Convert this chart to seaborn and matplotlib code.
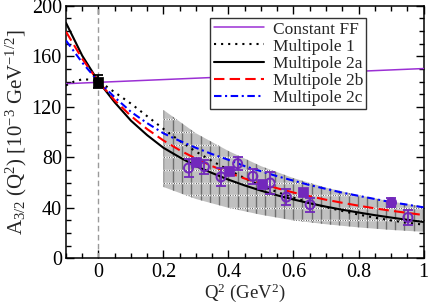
import numpy as np
import pandas as pd
import matplotlib
matplotlib.use("Agg")
import matplotlib.pyplot as plt
from matplotlib.ticker import MultipleLocator
from matplotlib.lines import Line2D
import seaborn as sns

# ---------------- data ----------------
q2_curve = [-0.10, -0.05, 0.00, 0.05, 0.10, 0.15, 0.20, 0.25, 0.30, 0.35, 0.40,
            0.45, 0.50, 0.55, 0.60, 0.65, 0.70, 0.75, 0.80, 0.85, 0.90, 0.95, 1.00]
mp2a = [186.5, 160.5, 140.0, 123.5, 109.0, 97.5, 87.5, 80.0, 73.0, 67.5, 62.3,
        57.7, 53.6, 49.9, 46.6, 43.6, 40.9, 38.5, 36.3, 34.2, 32.3, 30.5, 28.8]
mp2b = [179.5, 158.0, 140.0, 125.1, 112.7, 102.3, 93.3, 85.6, 78.9, 73.0, 67.8,
        63.2, 59.1, 55.5, 52.1, 49.2, 46.4, 44.0, 41.7, 39.6, 37.7, 36.0, 34.3]
mp2c = [172.5, 155.0, 140.0, 127.5, 116.0, 107.0, 99.0, 93.0, 87.5, 82.5, 78.0,
        73.0, 69.0, 65.0, 61.5, 58.0, 55.0, 52.0, 49.5, 47.0, 44.5, 42.5, 40.4]

q2_mp1 = [-0.100, -0.075, -0.050, -0.025, 0.000, 0.025, 0.050, 0.075, 0.100, 0.125,
          0.150, 0.175, 0.200, 0.250, 0.300, 0.350, 0.400, 0.450, 0.500, 0.550,
          0.600, 0.650, 0.700, 0.750, 0.800, 0.850, 0.900, 0.950, 1.000]
mp1 = [137.0, 140.0, 141.8, 141.5, 140.0, 136.0, 131.5, 127.0, 122.5, 117.5,
       112.5, 107.5, 102.5, 93.0, 84.5, 77.0, 70.0, 63.5, 57.5, 52.5,
       48.0, 44.0, 40.5, 37.5, 34.7, 32.2, 30.0, 28.2, 26.7]

q2_const = [-0.10, 1.00]
const_ff = [138.3, 150.3]

# error band
q2_band = [0.20, 0.30, 0.40, 0.50, 0.60, 0.70, 0.80, 0.90, 1.00]
band_hi = [117.5, 99.0, 85.0, 73.0, 63.5, 56.0, 50.0, 45.0, 41.0]
band_lo = [56.5, 47.0, 40.0, 34.5, 30.0, 27.0, 24.5, 22.5, 21.0]

# experimental points
open_q2 = [0.277, 0.326, 0.377, 0.428, 0.475, 0.528, 0.578, 0.651, 0.952]
open_a = [71.5, 72.5, 64.5, 75.0, 65.0, 59.7, 48.5, 42.5, 32.3]
open_err = [7.0, 5.5, 7.0, 5.0, 6.0, 9.0, 6.3, 5.5, 6.0]

sq_q2 = [0.301, 0.402, 0.503, 0.628]
sq_a = [76.0, 69.4, 58.6, 52.8]

fc_q2 = [0.901]
fc_a = [44.5]
fc_err = [3.5]

pt0_q2 = [0.0]
pt0_a = [140.0]
pt0_err = [5.0]

xticks = [0, 0.2, 0.4, 0.6, 0.8, 1.0]
xtick_labels = ["0", "0.2", "0.4", "0.6", "0.8", "1"]
yticks = [0, 40, 80, 120, 160, 200]
legend_labels = ["Constant FF", "Multipole 1", "Multipole 2a", "Multipole 2b", "Multipole 2c"]

# ---------------- style ----------------
sns.set_theme(style="ticks")
plt.rcParams["font.family"] = ["Liberation Serif", "DejaVu Serif"]
plt.rcParams["mathtext.fontset"] = "custom"
plt.rcParams["mathtext.rm"] = "Liberation Serif"
plt.rcParams["mathtext.it"] = "Liberation Serif:italic"
plt.rcParams["mathtext.bf"] = "Liberation Serif:bold"

PURPLE_LINE = "#9b30d4"
PURPLE_PT = "#7228bc"

fig = plt.figure(figsize=(4.29, 3.05), dpi=100)
ax = fig.add_axes([0.1538, 0.153, 0.8334, 0.828])

# band
poly = ax.fill_between(q2_band, band_lo, band_hi, facecolor="#c0c0c0",
                       edgecolor="none", zorder=1)
clip_path = poly.get_paths()[0]
for xv in np.arange(0.2, 1.0, 0.0285):
    ln = ax.axvline(xv, color="#6e6e6e", lw=1.0, zorder=1.1)
    ln.set_clip_path(clip_path, transform=ax.transData)
for yv in np.arange(20, 120, 10):
    l1 = ax.axhline(yv, color="white", lw=1.0, zorder=1.2)
    l1.set_clip_path(clip_path, transform=ax.transData)
    l2 = ax.axhline(yv, color="#222222", lw=0.8, ls=(0, (0.6, 1.6)), zorder=1.3)
    l2.set_clip_path(clip_path, transform=ax.transData)

# vertical dashed line at Q2 = 0
ax.axvline(0.0, color="#9a9a9a", lw=1.0, ls=(0, (4, 2.5)), zorder=1.5)

# curves
df_const = pd.DataFrame({"q2": q2_const, "a": const_ff})
df_mp1 = pd.DataFrame({"q2": q2_mp1, "a": mp1})
df_a = pd.DataFrame({"q2": q2_curve, "a": mp2a})
df_b = pd.DataFrame({"q2": q2_curve, "a": mp2b})
df_c = pd.DataFrame({"q2": q2_curve, "a": mp2c})

lw = 1.5
DOT = (0, (1, 2.4))
DASH = (0, (5, 2.5))
DASHDOT = (0, (3.6, 1.7, 1, 1.7))
sns.lineplot(data=df_const, x="q2", y="a", ax=ax, color=PURPLE_LINE, lw=1.1, zorder=3)
sns.lineplot(data=df_mp1, x="q2", y="a", ax=ax, color="black", lw=lw, zorder=3)
ax.lines[-1].set_linestyle(DOT)
sns.lineplot(data=df_a, x="q2", y="a", ax=ax, color="black", lw=lw, zorder=3)
sns.lineplot(data=df_b, x="q2", y="a", ax=ax, color="#ff0000", lw=lw, zorder=3)
ax.lines[-1].set_linestyle(DASH)
sns.lineplot(data=df_c, x="q2", y="a", ax=ax, color="#0000ff", lw=lw, zorder=3)
ax.lines[-1].set_linestyle(DASHDOT)

# data points
ax.errorbar(open_q2, open_a, yerr=open_err, fmt="none", ecolor=PURPLE_PT,
            elinewidth=1.3, capsize=3.5, capthick=1.3, zorder=4)
sns.scatterplot(x=open_q2, y=open_a, ax=ax, marker="o", s=42, facecolor="none",
                edgecolor=PURPLE_PT, linewidth=1.4, zorder=5)
sns.scatterplot(x=sq_q2, y=sq_a, ax=ax, marker="s", s=42, color=PURPLE_PT,
                edgecolor=PURPLE_PT, linewidth=0.5, zorder=5)
ax.errorbar(fc_q2, fc_a, yerr=fc_err, fmt="none", ecolor=PURPLE_PT,
            elinewidth=1.3, capsize=3.5, capthick=1.3, zorder=4)
sns.scatterplot(x=fc_q2, y=fc_a, ax=ax, marker="o", s=55, color=PURPLE_PT,
                edgecolor=PURPLE_PT, linewidth=0.5, zorder=5)
ax.errorbar(pt0_q2, pt0_a, yerr=pt0_err, fmt="none", ecolor="black",
            elinewidth=1.3, capsize=3.5, capthick=1.3, zorder=6)
sns.scatterplot(x=pt0_q2, y=pt0_a, ax=ax, marker="s", s=60, color="black",
                edgecolor="black", linewidth=0.5, zorder=7)

# axes
ax.set_xlim(-0.1, 1.0)
ax.set_ylim(0, 200)
ax.set_xticks(xticks)
ax.set_xticklabels(xtick_labels)
ax.set_yticks(yticks)
ax.xaxis.set_minor_locator(MultipleLocator(0.05))
ax.yaxis.set_minor_locator(MultipleLocator(10))
ax.tick_params(which="both", direction="in", top=True, right=True, colors="black",
               labelsize=14.5, width=1.0)
ax.tick_params(which="major", length=6, pad=3)
ax.tick_params(which="minor", length=3.5)
for sp in ax.spines.values():
    sp.set_visible(True)
    sp.set_color("black")
    sp.set_linewidth(1.1)

ax.set_xlabel(r"Q$^2$ (GeV$^2$)", fontsize=13.5)
ax.set_ylabel(r"A$_{3/2}$ (Q$^2$) [10$^{-3}$ GeV$^{-1/2}$]", fontsize=15)
ax.yaxis.set_label_coords(-0.103, 0.5)
ax.xaxis.set_label_coords(0.5, -0.09)

handles = [
    Line2D([], [], color=PURPLE_LINE, lw=1.1),
    Line2D([], [], color="black", lw=lw, ls=DOT),
    Line2D([], [], color="black", lw=lw),
    Line2D([], [], color="#ff0000", lw=lw, ls=DASH),
    Line2D([], [], color="#0000ff", lw=lw, ls=DASHDOT),
]
leg = ax.legend(handles, legend_labels, loc="upper left", bbox_to_anchor=(0.403, 0.952),
                borderaxespad=0, fontsize=12.5, handlelength=2.9, handletextpad=0.5,
                labelspacing=0.05, borderpad=0.2, fancybox=False, framealpha=1,
                edgecolor="#333333")
leg.get_frame().set_linewidth(1.0)
leg.set_zorder(10)

fig.savefig("out.png", dpi=100)
